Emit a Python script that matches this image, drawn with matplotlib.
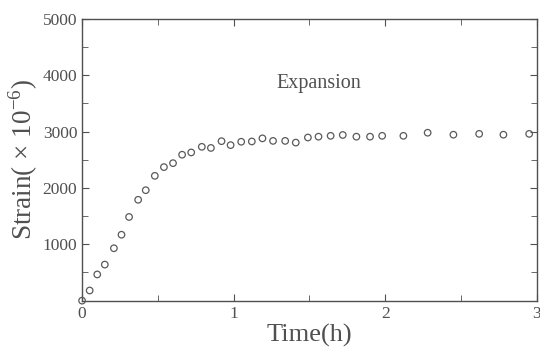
import matplotlib.pyplot as plt
from matplotlib.ticker import MultipleLocator

# time in hours, strain in microstrain
time_h = [0, 0.05, 0.10, 0.15, 0.21, 0.26, 0.31, 0.37, 0.42, 0.48, 0.54, 0.60,
          0.66, 0.72, 0.79, 0.85, 0.92, 0.98, 1.05, 1.12, 1.19, 1.26, 1.34,
          1.41, 1.49, 1.56, 1.64, 1.72, 1.81, 1.90, 1.98, 2.12, 2.28, 2.45,
          2.62, 2.78, 2.95]
strain = [0, 180, 465, 640, 930, 1170, 1485, 1790, 1960, 2215, 2370, 2440,
          2590, 2630, 2730, 2710, 2830, 2760, 2820, 2825, 2880, 2835, 2835,
          2805, 2895, 2910, 2925, 2940, 2910, 2910, 2925, 2925, 2980, 2945,
          2960, 2945, 2960]

plt.rcParams['font.family'] = ['Liberation Serif', 'DejaVu Serif']
plt.rcParams['mathtext.fontset'] = 'custom'
plt.rcParams['mathtext.rm'] = 'Liberation Serif'

grey = '#505050'

fig = plt.figure(figsize=(5.4, 3.5), dpi=100)
ax = fig.add_axes([0.152, 0.141, 0.842, 0.805])

ax.scatter(time_h, strain, s=22, facecolors='none', edgecolors='#5a5a5a',
           linewidths=0.9, clip_on=False, zorder=3)

ax.set_xlim(0, 3)
ax.set_ylim(0, 5000)
ax.xaxis.set_major_locator(MultipleLocator(1))
ax.xaxis.set_minor_locator(MultipleLocator(0.5))
ax.set_yticks([1000, 2000, 3000, 4000, 5000])
ax.yaxis.set_minor_locator(MultipleLocator(500))

ax.tick_params(which='both', direction='in', top=True, right=True,
               color=grey, labelcolor=grey, labelsize=12.5)
ax.tick_params(which='major', length=5)
ax.tick_params(which='minor', length=4)
for sp in ax.spines.values():
    sp.set_color(grey)
    sp.set_linewidth(1.0)

ax.set_xlabel('Time(h)', fontsize=19, color=grey, labelpad=2)
ax.set_ylabel('Strain( × 10$^{\\mathrm{-6}}$)', fontsize=19.5, color=grey,
              labelpad=2)

ax.text(1.285, 3780, 'Expansion', fontsize=14.5, color=grey,
        ha='left', va='baseline')

fig.savefig('out.png', dpi=100)
